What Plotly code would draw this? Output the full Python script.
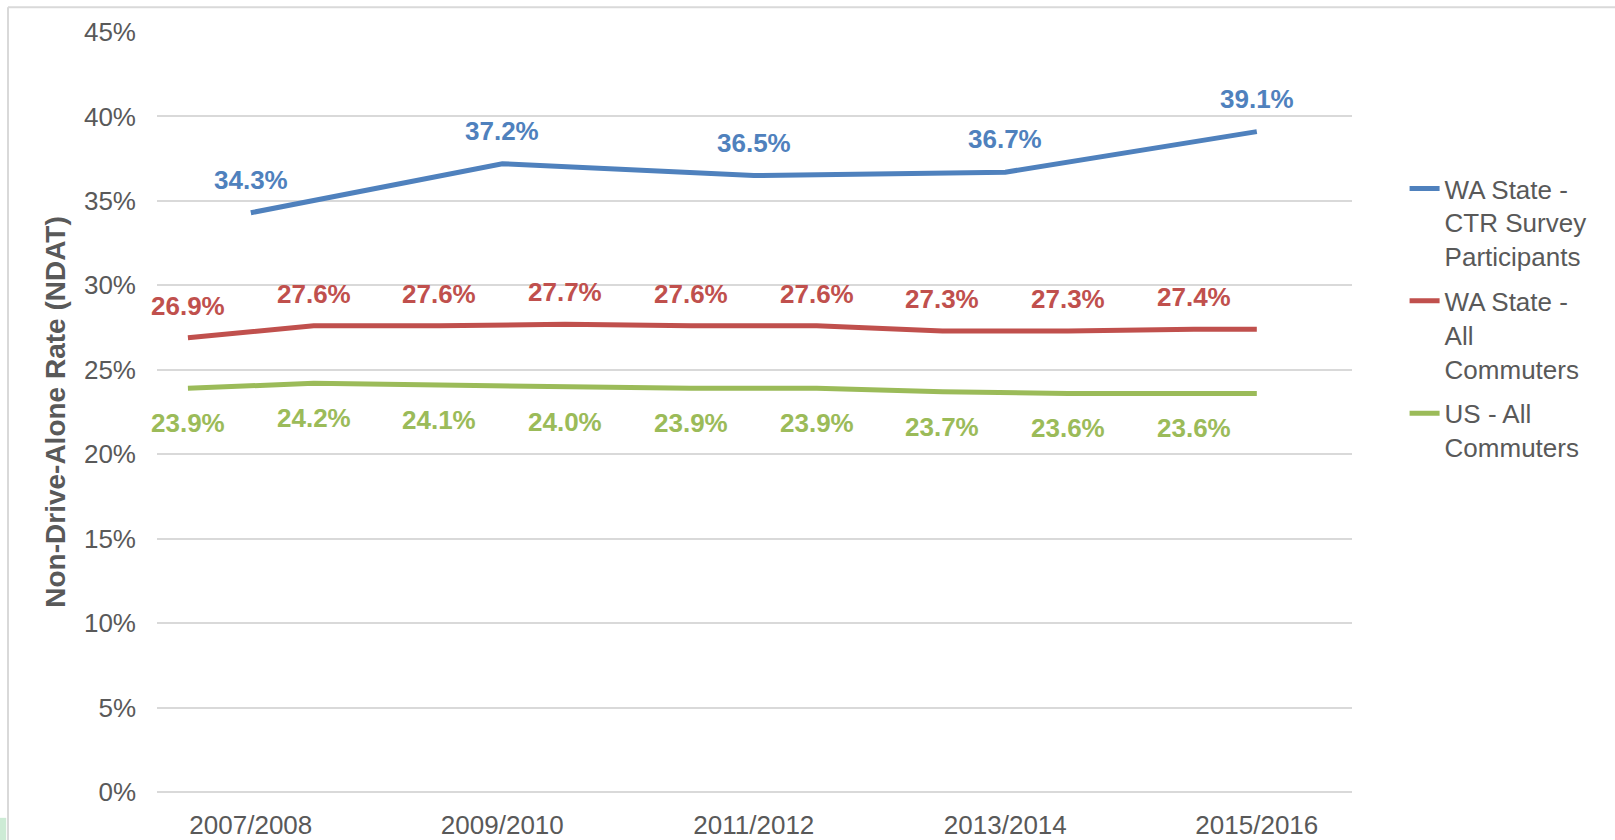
import plotly.graph_objects as go

# ---- data ----
period_labels = ["2007/2008", "2009/2010", "2011/2012", "2013/2014", "2015/2016"]
period_x = [0.5, 2.5, 4.5, 6.5, 8.5]
ctr_participants = [34.3, 37.2, 36.5, 36.7, 39.1]

annual_x = [0, 1, 2, 3, 4, 5, 6, 7, 8, 8.5]
wa_all_commuters = [26.9, 27.6, 27.6, 27.7, 27.6, 27.6, 27.3, 27.3, 27.4, 27.4]
us_all_commuters = [23.9, 24.2, 24.1, 24.0, 23.9, 23.9, 23.7, 23.6, 23.6, 23.6]
n_labeled = 9  # the final segment end point carries no data label

series_names = ["WA State -<br>CTR Survey<br>Participants",
                "WA State -<br>All<br>Commuters",
                "US - All<br>Commuters"]
BLUE, RED, GREEN = "#4F81BD", "#C0504D", "#9BBB59"
GRAY = "#595959"
GRID = "#D9D9D9"
FONT = "Liberation Sans, Arial, sans-serif"

fig = go.Figure()
fig.add_trace(go.Scatter(x=period_x, y=ctr_participants, mode="lines",
                         line=dict(color=BLUE, width=5), name=series_names[0],
                         legendgroup="a"))
fig.add_trace(go.Scatter(x=annual_x, y=wa_all_commuters, mode="lines",
                         line=dict(color=RED, width=5), name=series_names[1],
                         legendgroup="b"))
fig.add_trace(go.Scatter(x=annual_x, y=us_all_commuters, mode="lines",
                         line=dict(color=GREEN, width=5), name=series_names[2],
                         legendgroup="c"))

annotations = []
def add_labels(xs, ys, color, shift):
    for x, y in zip(xs, ys):
        annotations.append(dict(x=x, y=y, xref="x", yref="y", text=f"{y:.1f}%",
                                showarrow=False, yshift=shift,
                                font=dict(family=FONT, size=26, color=color,
                                          weight="bold")))

add_labels(period_x, ctr_participants, BLUE, 33)
add_labels(annual_x[:n_labeled], wa_all_commuters[:n_labeled], RED, 32)
add_labels(annual_x[:n_labeled], us_all_commuters[:n_labeled], GREEN, -35)

shapes = [
    # outer chart border (partially visible)
    dict(type="line", xref="paper", yref="paper", x0=-0.1247, x1=1.25,
         y0=1.0325, y1=1.0325, line=dict(color=GRID, width=2)),
    dict(type="line", xref="paper", yref="paper", x0=-0.1247, x1=-0.1247,
         y0=-0.1, y1=1.0325, line=dict(color=GRID, width=2)),
    dict(type="rect", xref="paper", yref="paper", x0=-0.14, x1=-0.1262,
         y0=-0.07, y1=-0.034, fillcolor="#CDEBD5", line=dict(width=0)),
]

fig.update_layout(
    width=1615, height=840,
    margin=dict(l=157, r=263, t=32, b=48, autoexpand=False),
    paper_bgcolor="white", plot_bgcolor="white",
    font=dict(family=FONT, color=GRAY, size=26),
    showlegend=True,
    legend=dict(x=1.044, y=0.825, xanchor="left", yanchor="top",
                valign="top", font=dict(family=FONT, size=26, color=GRAY),
                tracegroupgap=8, bgcolor="rgba(0,0,0,0)"),
    annotations=annotations,
    shapes=shapes,
    xaxis=dict(range=[-0.246, 9.257], tickmode="array", tickvals=period_x,
               ticktext=period_labels, showgrid=False, zeroline=False,
               showline=False, ticks="", ticklabelstandoff=15, automargin=False,
               tickfont=dict(family=FONT, size=26, color=GRAY)),
    yaxis=dict(range=[0, 45], dtick=5, ticksuffix="%", showgrid=True,
               gridcolor=GRID, gridwidth=1.5, zeroline=True, zerolinecolor=GRID,
               zerolinewidth=1.5, showline=False, ticks="", ticklabelstandoff=20,
               automargin=False,
               tickfont=dict(family=FONT, size=26, color=GRAY),
               title=dict(text="Non-Drive-Alone Rate (NDAT)", standoff=10,
                          font=dict(family=FONT, size=28, color=GRAY,
                                    weight="bold"))),
)

fig.write_html("out.html",
               config={"displayModeBar": False},
               post_script="document.body.style.margin='0';"
                           "document.body.style.overflow='hidden';")
